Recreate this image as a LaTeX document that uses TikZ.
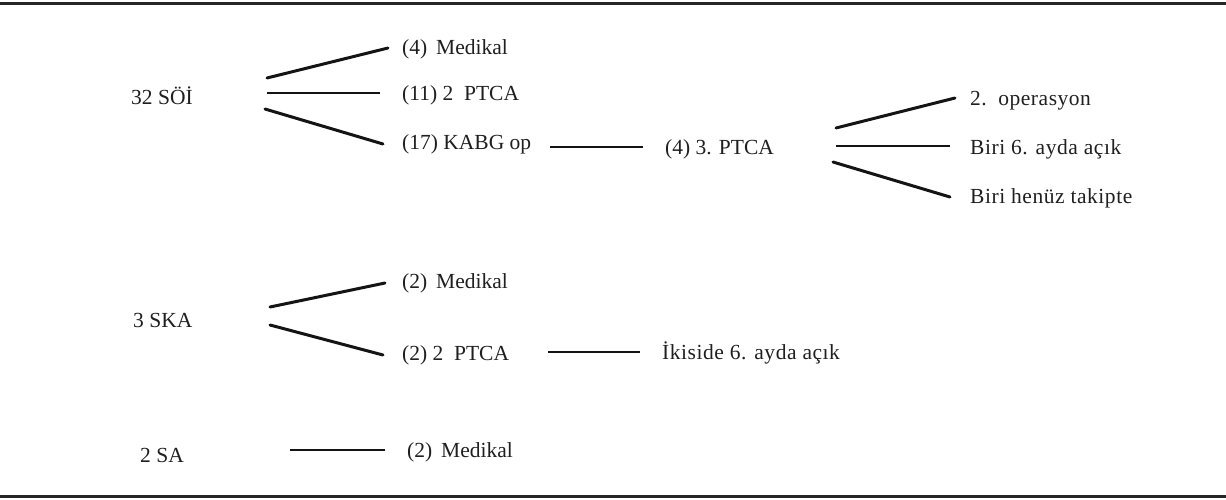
\documentclass[tikz,border=0pt]{standalone}
\usepackage{fontspec}
\setmainfont{Liberation Serif}
\newfontfamily\widefam[LetterSpace=2.5]{Liberation Serif}
\begin{document}
\begin{tikzpicture}[x=1pt,y=1pt,
  lbl/.style={anchor=base west,inner sep=0pt,text=black!88,font=\fontsize{21.5}{26}\selectfont},
  wlbl/.style={lbl,font=\fontsize{21.5}{26}\widefam},
  fan/.style={line width=3pt,draw=black!92,line cap=round},
  hline/.style={line width=2.2pt,draw=black!92},
  rule/.style={line width=3pt,draw=black!85}]
\useasboundingbox (0,0) rectangle (1226,-499);
\draw[rule] (0,-3) -- (1226,-3);
\draw[rule] (0,-496) -- (1226,-496);
% nodes
\node[lbl] (soi) at (131,-104) {32 SÖİ};
\node[lbl] (m1) at (402,-54) {(4) \,Medikal};
\node[lbl] (p1) at (402,-100) {(11) 2 \ PTCA};
\node[lbl] (k1) at (402,-149) {(17) KABG op};
\node[lbl] (p3) at (665,-154) {(4) 3. PTCA};
\node[wlbl] (o2) at (970,-105) {2. \,operasyon};
\node[wlbl] (b6) at (970,-154) {Biri 6. ayda açık};
\node[wlbl] (bh) at (970,-203) {Biri henüz takipte};
\node[lbl] (ska) at (133,-327) {3 SKA};
\node[lbl] (m2) at (402,-288) {(2) \,Medikal};
\node[lbl] (p2) at (402,-360) {(2) 2 \ PTCA};
\node[wlbl] (ik) at (662,-359) {İkiside 6. ayda açık};
\node[lbl] (sa) at (140,-462) {2 SA};
\node[lbl] (m3) at (407,-457) {(2) \,Medikal};
% connectors
\draw[fan] ([shift={(136,26)}]soi.base west) -- ([shift={(-14,6)}]m1.base west);
\draw[hline] ([shift={(136,11)}]soi.base west) -- ([shift={(-22,7)}]p1.base west);
\draw[fan] ([shift={(134,-5)}]soi.base west) -- ([shift={(-19,5)}]k1.base west);
\draw[hline] ([shift={(148,2)}]k1.base west) -- ([shift={(-22,7)}]p3.base west);
\draw[fan] ([shift={(171,26)}]p3.base west) -- ([shift={(-15,7)}]o2.base west);
\draw[hline] ([shift={(171,8)}]p3.base west) -- ([shift={(-20,8)}]b6.base west);
\draw[fan] ([shift={(168,-8)}]p3.base west) -- ([shift={(-20,6)}]bh.base west);
\draw[fan] ([shift={(137,20)}]ska.base west) -- ([shift={(-17,5)}]m2.base west);
\draw[fan] ([shift={(137,2)}]ska.base west) -- ([shift={(-19,5)}]p2.base west);
\draw[hline] ([shift={(146,8)}]p2.base west) -- ([shift={(-22,7)}]ik.base west);
\draw[hline] ([shift={(150,12)}]sa.base west) -- ([shift={(-22,7)}]m3.base west);
\end{tikzpicture}
\end{document}
